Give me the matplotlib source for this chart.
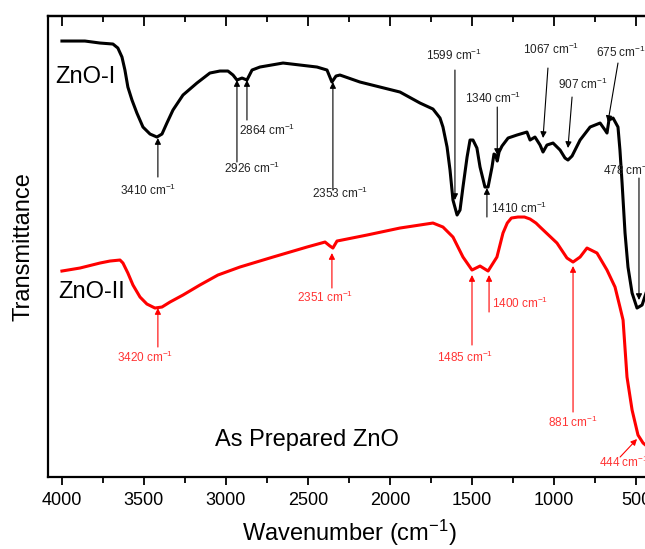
import numpy as np
import matplotlib
matplotlib.use('Agg')
import matplotlib.pyplot as plt
from matplotlib.ticker import MultipleLocator

plt.rcParams['font.family'] = 'Liberation Sans'
plt.rcParams['mathtext.fontset'] = 'custom'
plt.rcParams['mathtext.rm'] = 'Liberation Sans'
plt.rcParams['mathtext.it'] = 'Liberation Sans:italic'
plt.rcParams['mathtext.bf'] = 'Liberation Sans:bold'

#%% data (transmittance in arbitrary units)
wn_zno1 = [4000, 3860, 3768, 3689, 3659, 3634, 3616, 3598, 3573, 3543, 3506, 3463, 3421, 3390,
           3360, 3323, 3262, 3177, 3098, 3037, 2988, 2957, 2933, 2902, 2872, 2841, 2793, 2652,
           2445, 2384, 2354, 2329, 2305, 2183, 2061, 1939, 1817, 1738, 1695, 1677, 1652, 1634,
           1616, 1591, 1573, 1555, 1530, 1512, 1494, 1470, 1451, 1421, 1402, 1378, 1366, 1356,
           1346, 1335, 1317, 1280, 1226, 1165, 1146, 1116, 1085, 1067, 1043, 1006, 963, 933, 915,
           890, 841, 780, 719, 689, 677, 665, 640, 610, 598, 585, 567, 549, 524, 494, 463, 433]
t_zno1 = [436, 436, 434, 433, 429, 420, 407, 390, 377, 364, 350, 343, 340, 343,
          354, 367, 382, 394, 404, 406, 406, 402, 397, 399, 397, 407, 410, 414,
          410, 407, 395, 401, 402, 395, 390, 385, 374, 368, 359, 350, 330, 307,
          277, 262, 267, 290, 320, 337, 337, 329, 310, 290, 290, 310, 323, 322,
          316, 325, 331, 339, 342, 345, 337, 340, 332, 325, 332, 334, 327, 319, 317,
          321, 337, 350, 354, 347, 344, 357, 359, 350, 327, 294, 244, 210, 184, 169, 172, 187]

wn_zno2 = [4000, 3890, 3768, 3707, 3646, 3628, 3598, 3567, 3524, 3482, 3433, 3390, 3341, 3262,
           3159, 3049, 2915, 2713, 2506, 2396, 2366, 2348, 2323, 2140, 1939, 1738, 1677, 1616,
           1555, 1500, 1451, 1402, 1348, 1311, 1285, 1260, 1220, 1180, 1146, 1110, 1085, 982,
           921, 884, 841, 799, 738, 677, 628, 598, 579, 555, 524, 488, 457, 427]
t_zno2 = [206, 209, 214, 216, 217, 214, 204, 192, 180, 173, 169, 170, 175, 182,
          192, 202, 210, 220, 230, 235, 231, 229, 236, 242, 249, 254, 250, 240,
          220, 207, 211, 206, 220, 244, 254, 259, 260, 260, 258, 254, 250, 234,
          219, 215, 220, 229, 224, 207, 190, 170, 157, 100, 67, 42, 34, 30]

peaks_zno1 = [3410, 2926, 2864, 2353, 1599, 1410, 1340, 1067, 907, 675, 478]
peaks_zno2 = [3420, 2351, 1485, 1400, 881, 444]

#%% annotation layout: (arrow tail, arrow tip, text position, alignment)
lay1 = [((3415, 300), (3415, 339), (3475, 287), 'center'),
        ((2933, 315), (2933, 397), (2842, 309), 'center'),
        ((2872, 357), (2872, 397), (2750, 347), 'center'),
        ((2348, 287), (2348, 395), (2305, 284), 'center'),
        ((1604, 407), (1604, 277), (1610, 422), 'center'),
        ((1409, 260), (1409, 289), (1384, 269), 'left'),
        ((1346, 370), (1346, 322), (1372, 379), 'center'),
        ((1037, 409), (1067, 339), (1018, 428), 'center'),
        ((890, 380), (915, 329), (823, 393), 'center'),
        ((610, 414), (671, 355), (591, 425), 'center'),
        ((482, 299), (482, 177), (701, 307), 'left')]
lay2 = [((3415, 130), (3415, 169), (3494, 120), 'center'),
        ((2354, 189), (2354, 224), (2396, 180), 'center'),
        ((1500, 132), (1500, 202), (1543, 120), 'center'),
        ((1396, 165), (1396, 202), (1378, 174), 'left'),
        ((884, 65), (884, 211), (884, 55), 'center'),
        ((597, 20), (494, 38), (726, 15), 'left')]

#%%
fig = plt.figure(figsize=(6.45, 5.49), dpi=100)
ax = fig.add_axes([0.0744, 0.1311, 0.9333, 0.8397])

ax.plot(wn_zno1, t_zno1, color='black', linewidth=2.2, solid_joinstyle='round')
ax.plot(wn_zno2, t_zno2, color='#ff0000', linewidth=2.2, solid_joinstyle='round')

def label_peaks(peaks, lay, color, tcolor):
    for p, (tail, tip, txt, ha) in zip(peaks, lay):
        ax.annotate('', xy=tip, xytext=tail,
                    arrowprops=dict(arrowstyle='-|>', color=color, lw=0.8,
                                    mutation_scale=9, shrinkA=0, shrinkB=0))
        ax.text(txt[0], txt[1], str(p) + r' cm$^{-1}$', color=tcolor, fontsize=8.5,
                ha=ha, va='center')

label_peaks(peaks_zno1, lay1, 'black', '#222222')
label_peaks(peaks_zno2, lay2, '#ff0000', '#ff3333')

ax.text(4043, 400, 'ZnO-I', fontsize=17, ha='left', va='center')
ax.text(4024, 185, 'ZnO-II', fontsize=17, ha='left', va='center')
ax.text(2506, 37, 'As Prepared ZnO', fontsize=17, ha='center', va='center')

ax.set_xlim(4085, 415)
ax.set_ylim(0, 461)
ax.set_yticks([])
ax.xaxis.set_major_locator(MultipleLocator(500))
ax.xaxis.set_minor_locator(MultipleLocator(250))
ax.tick_params(axis='x', which='major', direction='out', length=6, width=1.3,
               labelsize=13, pad=5)
ax.tick_params(axis='x', which='minor', direction='out', length=4, width=1.3)
for s in ax.spines.values():
    s.set_linewidth(1.6)

top = ax.secondary_xaxis('top')
top.xaxis.set_major_locator(MultipleLocator(500))
top.xaxis.set_minor_locator(MultipleLocator(250))
top.tick_params(which='major', direction='in', length=7, width=1.3, labeltop=False)
top.tick_params(which='minor', direction='in', length=4, width=1.3)
top.spines['top'].set_linewidth(1.6)

ax.set_xlabel(r'Wavenumber (cm$^{-1}$)', fontsize=17, labelpad=6)
ax.set_ylabel('Transmittance', fontsize=17, labelpad=10)

plt.savefig('out.png', dpi=100)
